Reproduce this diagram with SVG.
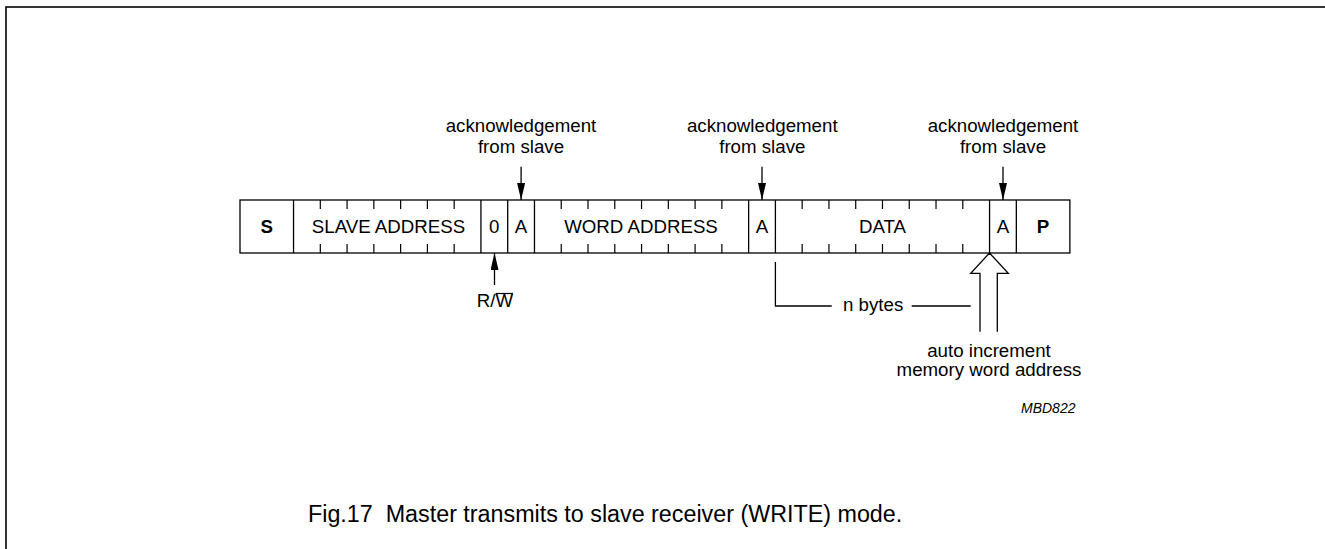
<svg xmlns="http://www.w3.org/2000/svg" width="1325" height="549" viewBox="0 0 1325 549">
<defs>
<style>
text{font-family:"Liberation Sans",Arial,sans-serif;fill:#000}
.t{font-size:18.7px;text-anchor:middle}
.b{font-weight:bold}
.ln{stroke:#000;stroke-width:1.3;fill:none}
.tk{stroke:#000;stroke-width:1.2}
</style>
<marker id="ah" viewBox="0 0 17 8" refX="17" refY="4" markerWidth="17" markerHeight="8" markerUnits="userSpaceOnUse" orient="auto">
<path d="M0,0 L17,4 L0,8 Z" fill="#000"/>
</marker>
</defs>
<rect x="0" y="0" width="1325" height="549" fill="#fff"/>
<rect x="6" y="7" width="1340" height="580" fill="none" stroke="#000" stroke-width="1.6"/>

<g id="frame-row">
<rect x="240" y="200" width="829.87" height="53" class="ln"/>
</g>
<g id="node-S"><line x1="293.54" y1="200" x2="293.54" y2="253" class="ln"/><text x="266.8" y="233" class="t b">S</text></g>
<g id="node-slave-address">
<line x1="480.93" y1="200" x2="480.93" y2="253" class="ln"/>
<path class="tk" d="M320.31,200v9M347.08,200v9M373.85,200v9M400.62,200v9M427.39,200v9M454.16,200v9M320.31,253v-9M347.08,253v-9M373.85,253v-9M400.62,253v-9M427.39,253v-9M454.16,253v-9"/>
<text x="388.5" y="233" class="t">SLAVE ADDRESS</text>
</g>
<g id="node-rw-bit"><line x1="507.7" y1="200" x2="507.7" y2="253" class="ln"/><text x="494.3" y="233" class="t">0</text></g>
<g id="node-ack1"><line x1="534.47" y1="200" x2="534.47" y2="253" class="ln"/><text x="521.1" y="233" class="t">A</text></g>
<g id="node-word-address">
<line x1="748.63" y1="200" x2="748.63" y2="253" class="ln"/>
<path class="tk" d="M561.24,200v9M588.01,200v9M614.78,200v9M641.55,200v9M668.32,200v9M695.09,200v9M721.86,200v9M561.24,253v-9M588.01,253v-9M614.78,253v-9M641.55,253v-9M668.32,253v-9M695.09,253v-9M721.86,253v-9"/>
<text x="641" y="233" class="t">WORD ADDRESS</text>
</g>
<g id="node-ack2"><line x1="775.4" y1="200" x2="775.4" y2="253" class="ln"/><text x="762" y="233" class="t">A</text></g>
<g id="node-data">
<line x1="989.56" y1="200" x2="989.56" y2="253" class="ln"/>
<path class="tk" d="M802.17,200v9M828.94,200v9M855.71,200v9M882.48,200v9M909.25,200v9M936.02,200v9M962.79,200v9M802.17,253v-9M828.94,253v-9M855.71,253v-9M882.48,253v-9M909.25,253v-9M936.02,253v-9M962.79,253v-9"/>
<text x="882.5" y="233" class="t">DATA</text>
</g>
<g id="node-ack3"><line x1="1016.33" y1="200" x2="1016.33" y2="253" class="ln"/><text x="1003" y="233" class="t">A</text></g>
<g id="node-P"><text x="1043.1" y="233" class="t b">P</text></g>

<g id="label-ack1"><text x="521" y="132" class="t">acknowledgement</text><text x="521" y="153" class="t">from slave</text></g>
<g id="label-ack2"><text x="762.3" y="132" class="t">acknowledgement</text><text x="762.3" y="153" class="t">from slave</text></g>
<g id="label-ack3"><text x="1003" y="132" class="t">acknowledgement</text><text x="1003" y="153" class="t">from slave</text></g>
<g id="label-rw"><text x="495" y="307" class="t">R/W</text><line x1="495.6" y1="293.5" x2="513" y2="293.5" stroke="#000" stroke-width="1.2"/></g>
<g id="label-nbytes"><text x="843" y="311" font-size="18.7">n bytes</text></g>
<g id="label-auto"><text x="989" y="357" class="t">auto increment</text><text x="989" y="376" class="t">memory word address</text></g>
<text x="1021" y="413" font-size="14" font-style="italic">MBD822</text>
<text x="308" y="522" font-size="23.3" xml:space="preserve" style="white-space:pre">Fig.17  Master transmits to slave receiver (WRITE) mode.</text>

<g id="connectors">
<line x1="521.1" y1="166.7" x2="521.1" y2="200" class="ln" marker-end="url(#ah)"/>
<line x1="762" y1="166.7" x2="762" y2="200" class="ln" marker-end="url(#ah)"/>
<line x1="1003" y1="166.7" x2="1003" y2="200" class="ln" marker-end="url(#ah)"/>
<line x1="494.5" y1="285" x2="494.5" y2="253" class="ln" marker-end="url(#ah)"/>
<path d="M775.4,262V306H831.7M911.7,306H970.7" class="ln"/>
<polyline points="980,331.7 980,273.3 970.7,273.3 989.5,253 1008.3,273.3 997.3,273.3 997.3,331.7" fill="#fff" stroke="#000" stroke-width="1.3"/>
</g>
</svg>
